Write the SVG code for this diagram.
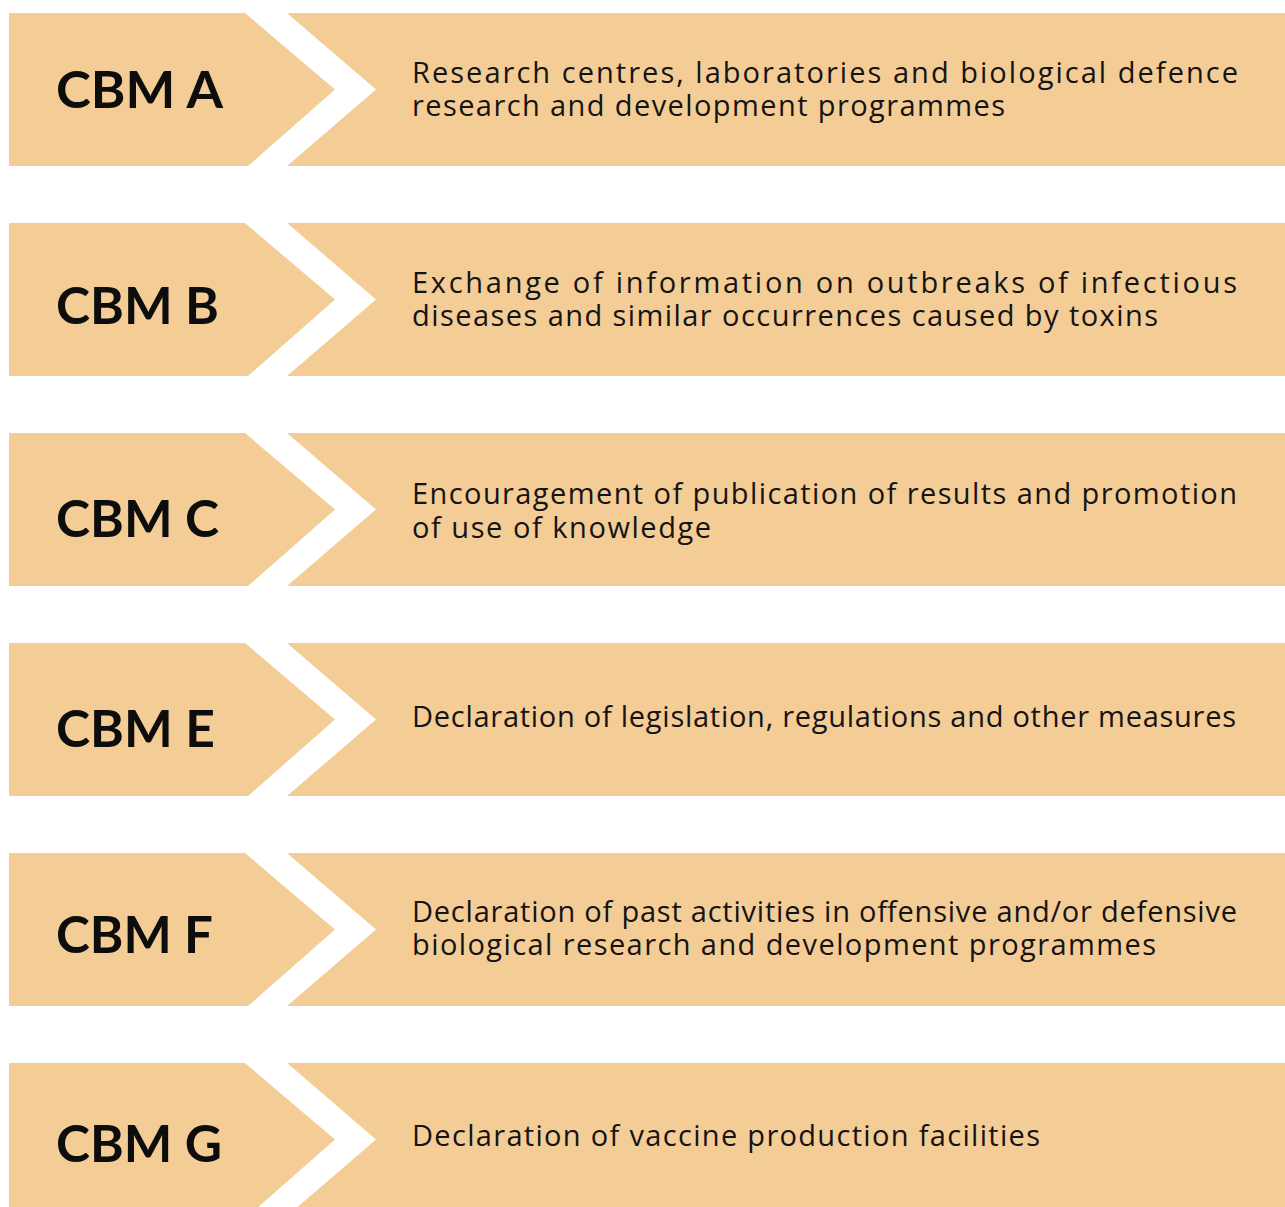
<svg xmlns="http://www.w3.org/2000/svg" xmlns:xlink="http://www.w3.org/1999/xlink" width="1285" height="1207" viewBox="0 0 1285 1207">
<style>
.band{fill:#F4CC96}
.lbl{font-family:"Lato","Open Sans","Liberation Sans",sans-serif;font-weight:700;font-size:51px;fill:#0d0d0d}
.txt{font-family:"Open Sans","Noto Sans","Liberation Sans",sans-serif;font-weight:400;font-size:29px;fill:#141414}
</style>
<defs>
<g id="chev">
<polygon class="band" points="9,0 245,0 335,76.5 248,153 9,153"/>
<polygon class="band" points="287,0 1285,0 1285,153 287,153 376,76.5"/>
</g>
</defs>
<rect width="1285" height="1207" fill="#ffffff"/>
<g id="connectors"></g>
<g id="cbm-a">
<use xlink:href="#chev" href="#chev" transform="translate(0,13)"/>
<text class="lbl" x="56" y="108" textLength="167" lengthAdjust="spacingAndGlyphs">CBM A</text>
<text class="txt"><tspan x="412" y="83" textLength="826" lengthAdjust="spacing">Research centres, laboratories and biological defence</tspan><tspan x="412" y="116" textLength="593" lengthAdjust="spacing">research and development programmes</tspan></text>
</g>
<g id="cbm-b">
<use xlink:href="#chev" href="#chev" transform="translate(0,223)"/>
<text class="lbl" x="56" y="324" textLength="163" lengthAdjust="spacingAndGlyphs">CBM B</text>
<text class="txt"><tspan x="412" y="293" textLength="825" lengthAdjust="spacing">Exchange of information on outbreaks of infectious</tspan><tspan x="412" y="326" textLength="746" lengthAdjust="spacing">diseases and similar occurrences caused by toxins</tspan></text>
</g>
<g id="cbm-c">
<use xlink:href="#chev" href="#chev" transform="translate(0,433)"/>
<text class="lbl" x="56" y="537" textLength="163" lengthAdjust="spacingAndGlyphs">CBM C</text>
<text class="txt"><tspan x="412" y="504" textLength="825" lengthAdjust="spacing">Encouragement of publication of results and promotion</tspan><tspan x="412" y="538" textLength="299" lengthAdjust="spacing">of use of knowledge</tspan></text>
</g>
<g id="cbm-e">
<use xlink:href="#chev" href="#chev" transform="translate(0,643)"/>
<text class="lbl" x="56" y="747" textLength="159" lengthAdjust="spacingAndGlyphs">CBM E</text>
<text class="txt" x="412" y="727" textLength="824" lengthAdjust="spacing">Declaration of legislation, regulations and other measures</text>
</g>
<g id="cbm-f">
<use xlink:href="#chev" href="#chev" transform="translate(0,853)"/>
<text class="lbl" x="56" y="953" textLength="157" lengthAdjust="spacingAndGlyphs">CBM F</text>
<text class="txt"><tspan x="412" y="922" textLength="825" lengthAdjust="spacing">Declaration of past activities in offensive and/or defensive</tspan><tspan x="412" y="955" textLength="744" lengthAdjust="spacing">biological research and development programmes</tspan></text>
</g>
<g id="cbm-g">
<use xlink:href="#chev" href="#chev" transform="translate(0,1063)"/>
<text class="lbl" x="56" y="1162" textLength="166" lengthAdjust="spacingAndGlyphs">CBM G</text>
<text class="txt" x="412" y="1146" textLength="628" lengthAdjust="spacing">Declaration of vaccine production facilities</text>
</g>
</svg>
